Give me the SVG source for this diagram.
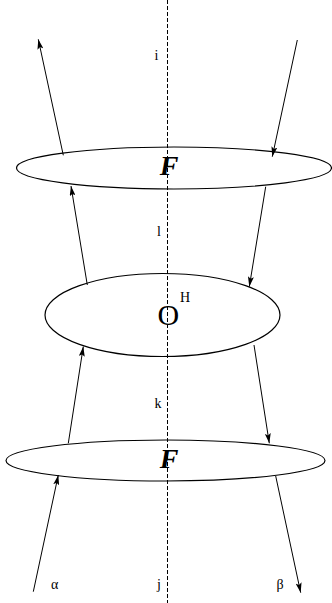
<svg xmlns="http://www.w3.org/2000/svg" width="332" height="603" viewBox="0 0 332 603">
<style>
.ell{fill:none;stroke:#000;stroke-width:1.2}
.ln{fill:none;stroke:#000;stroke-width:1;marker-end:url(#ah)}
.lbl{font-family:"Liberation Serif",serif;font-size:14px;fill:#000}
.F{font-family:"Liberation Serif",serif;font-size:28px;font-weight:bold;font-style:italic;fill:#000}
</style>
<defs>
<marker id="ah" viewBox="0 0 10 6" refX="10" refY="3" markerWidth="10" markerHeight="6" markerUnits="userSpaceOnUse" orient="auto">
<path d="M0,0 L10,3 L0,6 L2,3 Z" fill="#000"/>
</marker>
</defs>
<g id="axis">
<line x1="167.5" y1="0" x2="167.5" y2="603" stroke="#000" stroke-width="1" stroke-dasharray="4,2"/>
</g>
<g id="F1">
<ellipse class="ell" cx="174" cy="168" rx="157.5" ry="21"/>
<text class="F" x="169" y="175" text-anchor="middle">F</text>
</g>
<g id="O">
<ellipse class="ell" cx="162.5" cy="315" rx="117.5" ry="41.5"/>
<text x="157.5" y="325" font-family="Liberation Serif,serif" font-size="30" fill="#000">O</text>
<text x="180" y="302" font-family="Liberation Serif,serif" font-size="14" fill="#000">H</text>
</g>
<g id="F2">
<ellipse class="ell" cx="165.5" cy="460.5" rx="159.5" ry="20.5"/>
<text class="F" x="169" y="468" text-anchor="middle">F</text>
</g>
<g id="connectors">
<line class="ln" x1="63.3" y1="155.3" x2="38.3" y2="39.3"/>
<line class="ln" x1="297.3" y1="40" x2="272.3" y2="156.7"/>
<line class="ln" x1="87.3" y1="285" x2="71" y2="186"/>
<line class="ln" x1="265.7" y1="186.7" x2="249.3" y2="286.7"/>
<line class="ln" x1="68.3" y1="443.3" x2="83.3" y2="346.5"/>
<line class="ln" x1="254" y1="345" x2="269.3" y2="443.3"/>
<line class="ln" x1="33.3" y1="591.7" x2="58.3" y2="475"/>
<line class="ln" x1="275.7" y1="476" x2="300.7" y2="592.7"/>
</g>
<g id="labels">
<text class="lbl" x="154.5" y="60">i</text>
<text class="lbl" x="157" y="236">l</text>
<text class="lbl" x="154.5" y="408">k</text>
<text class="lbl" x="157" y="589">j</text>
<text class="lbl" x="51" y="589">α</text>
<text class="lbl" x="276.5" y="589">β</text>
</g>
</svg>
